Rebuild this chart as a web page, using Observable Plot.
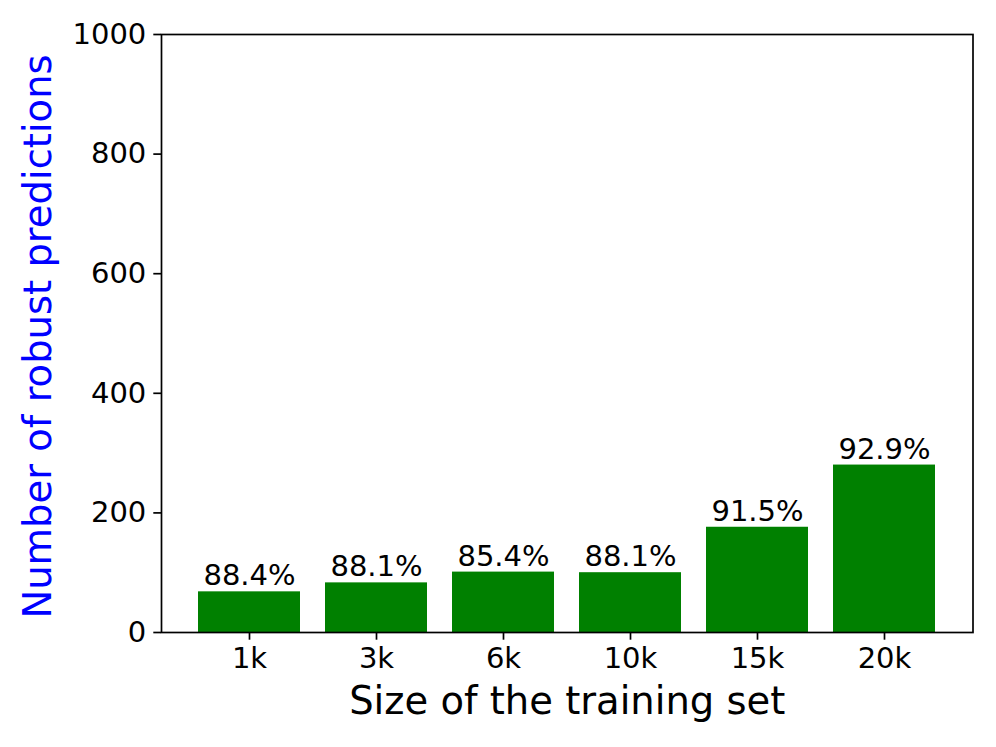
<!DOCTYPE html>
<html>
<head>
<meta charset="utf-8">
<script src="https://cdn.jsdelivr.net/npm/d3@7"></script>
<script src="https://cdn.jsdelivr.net/npm/@observablehq/plot@0.6"></script>
<style>
  html, body { margin: 0; padding: 0; background: white; }
  #chart { width: 996px; height: 747px; }
</style>
</head>
<body>
<div id="chart"></div>
<script>
const sizes = ["1k", "3k", "6k", "10k", "15k", "20k"];
const robust = [68, 83, 101, 100, 176, 280];
const percents = ["88.4%", "88.1%", "85.4%", "88.1%", "91.5%", "92.9%"];
const yTicks = [0, 200, 400, 600, 800, 1000];
const xLabel = "Size of the training set";
const yLabel = "Number of robust predictions";

const data = sizes.map((s, i) => ({size: s, value: robust[i], pct: percents[i]}));

const chart = Plot.plot({
  width: 996,
  height: 747,
  marginLeft: 161,
  marginRight: 23.5,
  marginTop: 34,
  marginBottom: 115,
  style: {fontFamily: "DejaVu Sans", background: "white", color: "black", fontSize: "29px"},
  x: {domain: sizes, paddingInner: 0.2, paddingOuter: 0.29, label: null},
  y: {domain: [0, 1000], label: null},
  marks: [
    Plot.barY(data, {x: "size", y: "value", fill: "#008000"}),
    Plot.text(data, {x: "size", y: "value", text: "pct", lineAnchor: "bottom", dy: -6.5, fontSize: 29, fill: "black"}),
    Plot.frame({stroke: "black", strokeWidth: 1.7}),
    Plot.axisY({ticks: yTicks, tickFormat: d => String(d), tickSize: 7.7, tickPadding: 7.5, fontSize: 29, strokeWidth: 1.7, label: null}),
    Plot.axisX({tickSize: 7.7, tickPadding: 7.5, fontSize: 29, strokeWidth: 1.7, label: null}),
    Plot.text([xLabel], {frameAnchor: "bottom", lineAnchor: "top", dy: 54, fontSize: 38.5, fill: "black"}),
    Plot.text([yLabel], {frameAnchor: "left", textAnchor: "middle", lineAnchor: "top", rotate: -90, dx: -137.7, dy: 3, fontSize: 38.5, fill: "#0000ff"})
  ]
});
document.getElementById("chart").appendChild(chart);
</script>
</body>
</html>
